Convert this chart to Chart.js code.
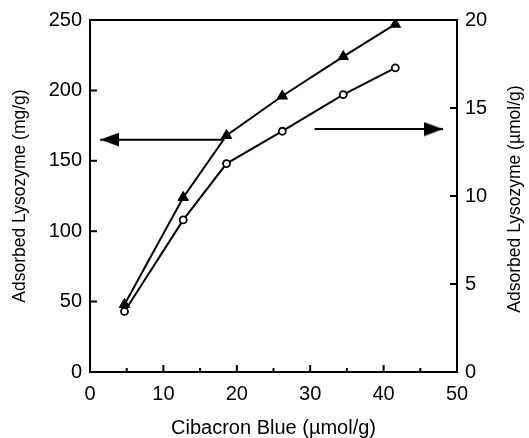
<!DOCTYPE html>
<html>
<head>
<meta charset="utf-8">
<script src="https://cdn.jsdelivr.net/npm/chart.js@4/dist/chart.umd.min.js"></script>
<style>
  html, body { margin: 0; padding: 0; background: #fff; }
  #wrap { width: 529px; height: 438px; }
</style>
</head>
<body>
<div id="wrap"><canvas id="lyso" width="529" height="438"></canvas></div>
<script>
// Cibacron Blue loading (umol/g)
const blueLoad = [4.7, 12.7, 18.6, 26.2, 34.5, 41.6];
// adsorbed lysozyme, mg/g (filled triangles)
const adsMg = [48, 124, 168, 196, 224, 247];
// adsorbed lysozyme, umol/g (open circles, read on the mg/g scale)
const adsMol = [43, 108, 148, 171, 197, 216];

// arrows pointing to the axis each curve belongs to
const leftArrowX = [18.1, 1.4];
const leftArrowY = [165, 165];
const rightArrowX = [30.6, 48.1];
const rightArrowY = [13.8, 13.8];

const xTicks = [0, 10, 20, 30, 40, 50];
const xMinor = [5, 15, 25, 35, 45];
const yLeftTicks = [0, 50, 100, 150, 200, 250];
const yRightTicks = [0, 5, 10, 15, 20];

const rightTitle = 'Adsorbed Lysozyme (µmol/g)';

// arrow head image, tip sits in the middle of the canvas
function makeHead() {
    const c = document.createElement('canvas');
    c.width = 38; c.height = 15;
    const g = c.getContext('2d');
    g.fillStyle = '#000';
    g.beginPath();
    g.moveTo(0, 0.5);
    g.lineTo(19, 7.5);
    g.lineTo(0, 14.5);
    g.closePath();
    g.fill();
    return c;
}
const head = makeHead();

const FONT = '"Liberation Sans", Arial, Helvetica, sans-serif';

function pts(xs, ys) {
    return xs.map((x, i) => ({ x: x, y: ys[i] }));
}

// box, inward ticks, right title read bottom to top
const frame = {
    id: 'frame',
    afterDraw(chart) {
        const ctx = chart.ctx;
        const a = chart.chartArea;
        const sx = chart.scales.x, sl = chart.scales.y, sr = chart.scales.y2;
        ctx.save();
        ctx.strokeStyle = '#000';
        ctx.lineWidth = 2;
        ctx.strokeRect(a.left, a.top, a.right - a.left, a.bottom - a.top);
        ctx.beginPath();
        xTicks.slice(1, -1).forEach(v => {
            const p = sx.getPixelForValue(v);
            ctx.moveTo(p, a.bottom); ctx.lineTo(p, a.bottom - 7);
        });
        xMinor.forEach(v => {
            const p = sx.getPixelForValue(v);
            ctx.moveTo(p, a.bottom); ctx.lineTo(p, a.bottom - 4);
        });
        yLeftTicks.slice(1, -1).forEach(v => {
            const p = sl.getPixelForValue(v);
            ctx.moveTo(a.left, p); ctx.lineTo(a.left + 7, p);
        });
        yRightTicks.slice(1, -1).forEach(v => {
            const p = sr.getPixelForValue(v);
            ctx.moveTo(a.right, p); ctx.lineTo(a.right - 7, p);
        });
        ctx.stroke();

        ctx.translate(515, (a.top + a.bottom) / 2 + 3);
        ctx.rotate(-Math.PI / 2);
        ctx.fillStyle = '#000';
        ctx.font = '17.5px ' + FONT;
        ctx.textAlign = 'center';
        ctx.textBaseline = 'middle';
        ctx.fillText(rightTitle, 0, 0);
        ctx.restore();
    }
};

new Chart(document.getElementById('lyso'), {
    type: 'line',
    data: {
        datasets: [
            {
                label: 'mg/g',
                data: pts(blueLoad, adsMg),
                yAxisID: 'y',
                borderColor: '#000',
                backgroundColor: '#000',
                borderWidth: 2,
                pointStyle: 'triangle',
                pointRadius: 6,
                pointBorderWidth: 1,
                tension: 0
            },
            {
                label: 'umol/g',
                data: pts(blueLoad, adsMol),
                yAxisID: 'y',
                borderColor: '#000',
                backgroundColor: '#fff',
                borderWidth: 2,
                pointStyle: 'circle',
                pointRadius: 3.5,
                pointBorderWidth: 1.8,
                tension: 0
            },
            {
                label: 'left arrow',
                data: pts(leftArrowX, leftArrowY),
                yAxisID: 'y',
                borderColor: '#000',
                borderWidth: 2,
                pointStyle: [false, head],
                pointRadius: [0, 5],
                rotation: 180,
                tension: 0
            },
            {
                label: 'right arrow',
                data: pts(rightArrowX, rightArrowY),
                yAxisID: 'y2',
                borderColor: '#000',
                borderWidth: 2,
                pointStyle: [false, head],
                pointRadius: [0, 5],
                rotation: 0,
                tension: 0
            }
        ]
    },
    options: {
        responsive: false,
        animation: false,
        layout: { padding: { top: 17, left: 0, right: 0, bottom: 0 } },
        plugins: { legend: { display: false }, tooltip: { enabled: false } },
        scales: {
            x: {
                type: 'linear',
                min: 0, max: 50,
                afterFit(s) { s.height = 66; },
                afterBuildTicks(s) { s.ticks = xTicks.map(v => ({ value: v })); },
                grid: { display: false, drawTicks: false },
                border: { display: false },
                ticks: { color: '#000', padding: 10, maxRotation: 0, font: { family: FONT, size: 20 } },
                title: { display: true, text: 'Cibacron Blue (µmol/g)', color: '#000', padding: { top: 4, bottom: 0 }, font: { family: FONT, size: 20, lineHeight: 1 } }
            },
            y: {
                position: 'left',
                min: 0, max: 250,
                afterFit(s) { s.width = 90; },
                afterBuildTicks(s) { s.ticks = yLeftTicks.map(v => ({ value: v })); },
                grid: { display: false, drawTicks: false },
                border: { display: false },
                ticks: { color: '#000', padding: 8, font: { family: FONT, size: 20 } },
                title: { display: true, text: 'Adsorbed Lysozyme (mg/g)', color: '#000', padding: { top: 10, bottom: 0 }, font: { family: FONT, size: 17.5 } }
            },
            y2: {
                position: 'right',
                min: 0, max: 20,
                afterFit(s) { s.width = 72; },
                afterBuildTicks(s) { s.ticks = yRightTicks.map(v => ({ value: v })); },
                grid: { display: false, drawTicks: false },
                border: { display: false },
                ticks: { color: '#000', padding: 8, font: { family: FONT, size: 20 } },
                title: { display: false }
            }
        }
    },
    plugins: [frame]
});
</script>
</body>
</html>
